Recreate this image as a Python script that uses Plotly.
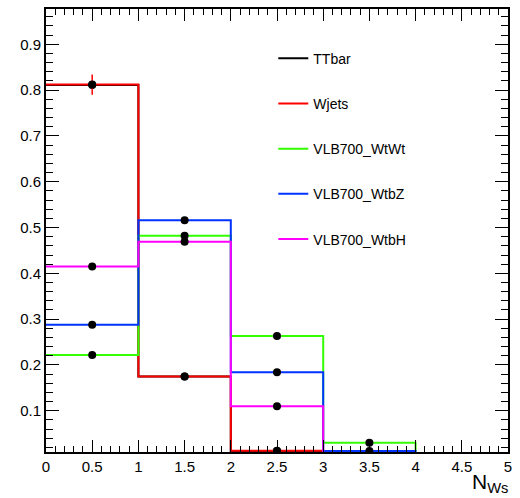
import plotly.graph_objects as go

# Bin edges and per-sample normalised N_Ws distributions
bin_edges = [0, 1, 2, 3, 4, 5]
samples = ["TTbar", "Wjets", "VLB700_WtWt", "VLB700_WtbZ", "VLB700_WtbH"]
colors = ["#000000", "#ff0000", "#33ff00", "#0033ff", "#ff00ff"]

ttbar = [0.811, 0.175, 0.012, 0.001, 0.0]
wjets = [0.812, 0.175, 0.013, 0.0, 0.0]
wtwt = [0.222, 0.482, 0.263, 0.030, 0.0]
wtbz = [0.288, 0.516, 0.184, 0.012, 0.0]
wtbh = [0.415, 0.469, 0.110, 0.006, 0.0]

ttbar_err = [0.004, 0.003, 0.001, 0.0, 0.0]
wjets_err = [0.022, 0.008, 0.002, 0.0, 0.0]
wtwt_err = [0.004, 0.005, 0.004, 0.002, 0.0]
wtbz_err = [0.004, 0.005, 0.004, 0.001, 0.0]
wtbh_err = [0.004, 0.005, 0.003, 0.001, 0.0]

values = [ttbar, wjets, wtwt, wtbz, wtbh]
errors = [ttbar_err, wjets_err, wtwt_err, wtbz_err, wtbh_err]

centers = [(a + b) / 2 for a, b in zip(bin_edges[:-1], bin_edges[1:])]

FONT = "Liberation Sans, Arial, sans-serif"

fig = go.Figure()

# Step outlines, one per sample
for name, col, vals in zip(samples, colors, values):
    fig.add_trace(go.Scatter(
        x=bin_edges, y=vals + [vals[-1]],
        mode="lines", line=dict(color=col, width=2, shape="hv"),
        name=name, legendgroup=name, showlegend=True,
        hoverinfo="skip",
    ))

# Bin-centre points with error bars
for name, col, vals, errs in zip(samples, colors, values, errors):
    fig.add_trace(go.Scatter(
        x=centers, y=vals, mode="markers",
        marker=dict(color="black", size=8, symbol="circle"),
        error_y=dict(type="data", array=errs, color=col, thickness=1.5, width=0),
        name=name, legendgroup=name, showlegend=False,
    ))

axis_common = dict(
    showgrid=False, zeroline=False,
    showline=True, linecolor="black", linewidth=2,
    mirror="allticks", ticks="inside", tickcolor="black",
    tickfont=dict(family=FONT, size=15, color="black"),
)

fig.update_xaxes(
    range=[0, 5], dtick=0.5, tick0=0, ticklen=12, tickwidth=1,
    minor=dict(ticks="inside", dtick=0.1, ticklen=6, tickcolor="black"),
    **axis_common,
)
fig.update_yaxes(
    range=[0.01, 0.977], dtick=0.1, tick0=0, ticklen=13, tickwidth=1,
    minor=dict(ticks="inside", dtick=0.02, ticklen=7, tickcolor="black"),
    **axis_common,
)

fig.add_annotation(
    text="N<sub>Ws</sub>", xref="paper", yref="paper",
    x=1.005, y=-0.036, xanchor="right", yanchor="top", showarrow=False,
    font=dict(family=FONT, size=21, color="black"),
)

fig.update_layout(
    width=520, height=498,
    margin=dict(l=46, r=12, t=7, b=46),
    paper_bgcolor="white", plot_bgcolor="white",
    showlegend=True,
    legend=dict(
        x=0.492, y=0.924, xanchor="left", yanchor="top",
        bgcolor="rgba(0,0,0,0)", borderwidth=0,
        font=dict(family=FONT, size=14, color="black"),
        tracegroupgap=24, itemwidth=30,
    ),
)

fig.write_html("out.html")
